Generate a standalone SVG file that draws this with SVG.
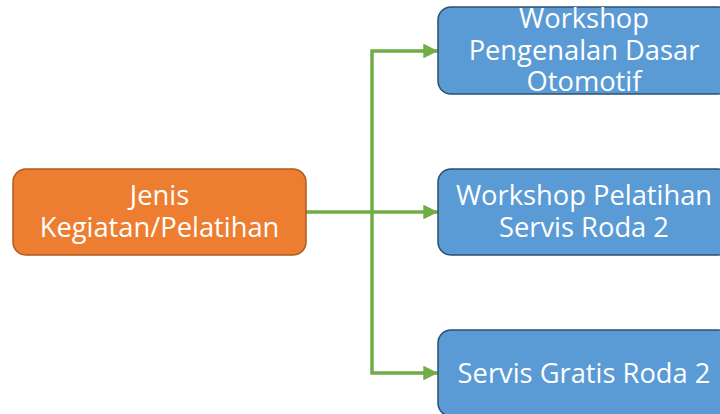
<svg xmlns="http://www.w3.org/2000/svg" width="720" height="414" viewBox="0 0 720 414">
<defs>
<style>
.o{fill:#ED7D31;stroke:#AE5A21;stroke-width:1.5}
.b{fill:#5B9BD5;stroke:#2E4F70;stroke-width:1.5}
.t{font-family:"Open Sans","Liberation Sans",sans-serif;font-size:27.3px;fill:#fff;text-anchor:middle}
.c{fill:none;stroke:#70AD47;stroke-width:3.5}
</style>
<marker id="ah" viewBox="0 0 10 10" refX="10" refY="5" markerWidth="4.2" markerHeight="4.2" markerUnits="strokeWidth" orient="auto">
<path d="M0,0 L10,5 L0,10 z" fill="#70AD47"/>
</marker>
</defs>
<rect width="720" height="414" fill="#fff"/>
<g id="connectors">
<path class="c" d="M306,212 H372"/>
<path class="c" d="M372,212 V51 H438" marker-end="url(#ah)"/>
<path class="c" d="M372,212 H438" marker-end="url(#ah)"/>
<path class="c" d="M372,212 V373 H438" marker-end="url(#ah)"/>
</g>
<g id="n0">
<rect class="o" x="13" y="169" width="293" height="86" rx="13"/>
<text class="t" x="159.5" y="205">Jenis</text>
<text class="t" x="159.5" y="237">Kegiatan/Pelatihan</text>
</g>
<g id="n1">
<rect class="b" x="438" y="7" width="293" height="87" rx="13"/>
<text class="t" x="584" y="28">Workshop</text>
<text class="t" x="584" y="60">Pengenalan Dasar</text>
<text class="t" x="584" y="91">Otomotif</text>
</g>
<g id="n2">
<rect class="b" x="438" y="169" width="293" height="86" rx="13"/>
<text class="t" x="584" y="205">Workshop Pelatihan</text>
<text class="t" x="584" y="237">Servis Roda 2</text>
</g>
<g id="n3">
<rect class="b" x="438" y="330" width="293" height="86" rx="13"/>
<text class="t" x="584" y="383">Servis Gratis Roda 2</text>
</g>
</svg>
